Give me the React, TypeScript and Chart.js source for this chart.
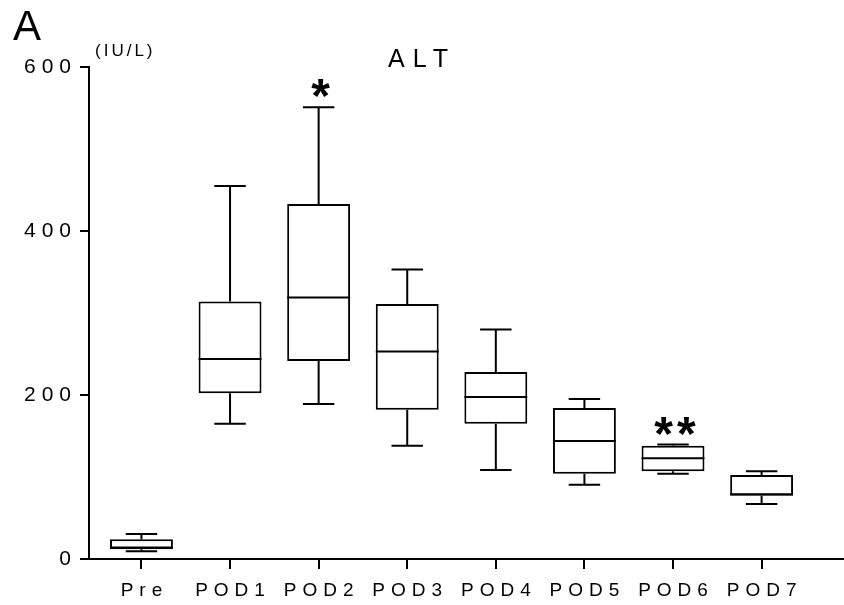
import React, { useEffect, useRef } from 'react';
import { Chart, registerables } from 'chart.js';

Chart.register(...registerables);

// ---- data ----
const categories = ['Pre', 'POD1', 'POD2', 'POD3', 'POD4', 'POD5', 'POD6', 'POD7'];
const whiskerMin = [9.5, 165, 189, 138, 108.5, 90.6, 104, 67];
const q1 = [12, 202, 241.5, 182, 165, 104, 107, 77];
const median = [14, 244, 319, 253, 197.6, 144, 123, 79];
const q3 = [24, 314, 433, 311, 228, 184, 138, 102.4];
const whiskerMax = [30.5, 455, 551, 353, 280, 195, 139.5, 107];
const significance = ['', '', '*', '', '', '', '**', ''];
const yTicks = [0, 200, 400, 600];
const panelLabel = 'A';
const unitLabel = '(IU/L)';
const titleText = 'ALT';

const FONT = '"Liberation Sans", Arial, Helvetica, sans-serif';
const X_LS = 6;
const Y_LS = 6;

const spacingPlugin = {
  id: 'letterSpacingTicks',
  beforeDraw(chart: any) {
    ['x', 'y'].forEach((id) => {
      const s: any = chart.scales[id];
      if (!s || s.__ls) return;
      const ls = id === 'x' ? X_LS : Y_LS;
      const orig = s.drawLabels.bind(s);
      s.drawLabels = (area: any) => {
        const c = s.ctx;
        c.save();
        c.letterSpacing = ls + 'px';
        orig(area);
        c.restore();
      };
      s.__ls = true;
    });
  },
};

const boxPlugin = {
  id: 'boxWhiskers',
  afterDatasetsDraw(chart: any) {
    const { ctx } = chart;
    const x = chart.scales.x;
    const y = chart.scales.y;
    const meta = chart.getDatasetMeta(0);
    ctx.save();
    ctx.strokeStyle = '#000';
    ctx.lineWidth = 2;
    ctx.lineCap = 'butt';
    meta.data.forEach((bar: any, i: number) => {
      const { width } = bar.getProps(['width'], true);
      const cx = x.getPixelForValue(i);
      const half = width / 2;
      const cap = width * 0.25;
      const yMed = y.getPixelForValue(median[i]);
      const yQ1 = y.getPixelForValue(q1[i]);
      const yQ3 = y.getPixelForValue(q3[i]);
      const yMin = y.getPixelForValue(whiskerMin[i]);
      const yMax = y.getPixelForValue(whiskerMax[i]);
      ctx.beginPath();
      ctx.moveTo(cx - half, yMed);
      ctx.lineTo(cx + half, yMed);
      ctx.moveTo(cx, yQ3);
      ctx.lineTo(cx, yMax);
      ctx.moveTo(cx - cap, yMax);
      ctx.lineTo(cx + cap, yMax);
      ctx.moveTo(cx, yQ1);
      ctx.lineTo(cx, yMin);
      ctx.moveTo(cx - cap, yMin);
      ctx.lineTo(cx + cap, yMin);
      ctx.stroke();

      const sig = significance[i];
      if (sig) {
        ctx.save();
        ctx.fillStyle = '#000';
        ctx.font = 'bold 48px ' + FONT;
        ctx.letterSpacing = '4px';
        ctx.textAlign = 'center';
        ctx.textBaseline = 'alphabetic';
        const m = ctx.measureText(sig);
        const targetCenter = yMax - 19;
        const by = targetCenter - (m.actualBoundingBoxDescent - m.actualBoundingBoxAscent) / 2;
        ctx.fillText(sig, cx + 4, by);
        ctx.restore();
      }
    });
    ctx.restore();
  },
  afterDraw(chart: any) {
    const { ctx } = chart;
    ctx.save();
    ctx.fillStyle = '#000';
    ctx.textBaseline = 'alphabetic';
    ctx.textAlign = 'left';
    ctx.font = '42px ' + FONT;
    ctx.fillText(panelLabel, 13, 40);
    ctx.font = '17px ' + FONT;
    ctx.letterSpacing = '3px';
    ctx.fillText(unitLabel, 95, 56);
    ctx.font = '25px ' + FONT;
    ctx.letterSpacing = '8px';
    ctx.textAlign = 'center';
    ctx.fillText(titleText, 418 + 4, 67);
    ctx.restore();
  },
};

export default function App() {
  const ref = useRef<HTMLCanvasElement | null>(null);
  useEffect(() => {
    if (!ref.current) return;
    const chart = new Chart(ref.current, {
      type: 'bar',
      data: {
        datasets: [
          {
            data: categories.map((_, i) => ({ x: i, y: [q1[i], q3[i]] })) as any,
            backgroundColor: '#fff',
            borderColor: '#000',
            borderWidth: 2,
            borderSkipped: false,
            barPercentage: 0.71,
            categoryPercentage: 1,
          },
        ],
      },
      options: {
        animation: false,
        responsive: false,
        devicePixelRatio: 1,
        layout: { padding: { top: 67, right: 0, left: 0, bottom: 0 } },
        plugins: { legend: { display: false }, tooltip: { enabled: false }, title: { display: false } },
        scales: {
          x: {
            type: 'linear',
            offset: false,
            min: -0.592,
            max: 7.93,
            afterFit: (s: any) => {
              s.height = 46;
            },
            afterBuildTicks: (s: any) => {
              s.ticks = categories.map((_, i) => ({ value: i }));
            },
            ticks: {
              callback: (v: any) => categories[v as number] ?? '',
              font: { family: FONT, size: 19 },
              color: '#000',
              padding: 10,
              maxRotation: 0,
              autoSkip: false,
              labelOffset: X_LS / 2,
            },
            grid: { offset: false, drawOnChartArea: false, drawTicks: true, tickLength: 10, color: '#000', lineWidth: 2 },
            border: { display: true, color: '#000', width: 2 },
          },
          y: {
            min: 0,
            max: 600,
            afterFit: (s: any) => {
              s.width = 89;
            },
            afterBuildTicks: (s: any) => {
              s.ticks = yTicks.map((v) => ({ value: v }));
            },
            ticks: {
              font: { family: FONT, size: 21 },
              color: '#000',
              padding: 3,
            },
            grid: { drawOnChartArea: false, drawTicks: true, tickLength: 9, color: '#000', lineWidth: 2 },
            border: { display: true, color: '#000', width: 2 },
          },
        },
      },
      plugins: [spacingPlugin, boxPlugin],
    });
    return () => chart.destroy();
  }, []);
  return (
    <div style={{ position: 'fixed', left: 0, top: 0, width: 844, height: 605, background: '#fff' }}>
      <canvas ref={ref} width={844} height={605} style={{ display: 'block' }} />
    </div>
  );
}
